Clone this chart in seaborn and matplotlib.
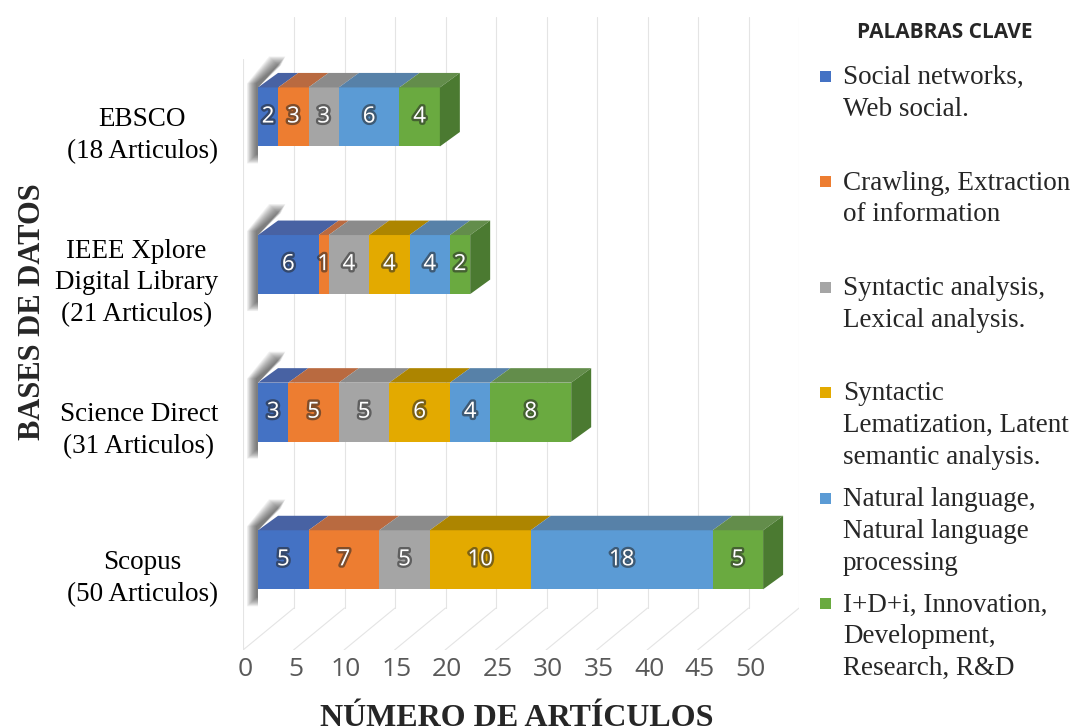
import numpy as np
import pandas as pd
import seaborn as sns
import matplotlib.pyplot as plt
import matplotlib.patheffects as pe
from matplotlib.patches import Polygon, Rectangle
from matplotlib.transforms import ScaledTranslation, blended_transform_factory

# datos
bases = ["EBSCO", "IEEE Xplore", "Science Direct", "Scopus"]
base_labels = ["EBSCO\n(18 Articulos)",
               "IEEE Xplore\nDigital Library\n(21 Articulos)",
               "Science Direct\n(31 Articulos)",
               "Scopus\n(50 Articulos)"]
keywords = ["Social networks,\nWeb social.",
            "Crawling, Extraction\nof information",
            "Syntactic analysis,\nLexical analysis.",
            "Syntactic\nLematization, Latent\nsemantic analysis.",
            "Natural language,\nNatural language\nprocessing",
            "I+D+i, Innovation,\nDevelopment,\nResearch, R&D"]
social = [2, 6, 3, 5]
crawling = [3, 1, 5, 7]
syntactic = [3, 4, 5, 5]
lematization = [0, 4, 6, 10]
natural = [6, 4, 4, 18]
innovation = [4, 2, 8, 5]
x_ticks = [0, 5, 10, 15, 20, 25, 30, 35, 40, 45, 50]

front_colors = ["#4472C4", "#ED7D31", "#A5A5A5", "#E3AA00", "#5B9BD5", "#6AAA40"]
top_colors = ["#4862A3", "#B96A40", "#8B8B8B", "#AD8500", "#5781A8", "#638D4B"]
side_color = "#4B7A31"
grid_color = "#E4E4E4"

cols = ["social", "crawling", "syntactic", "lematization", "natural", "innovation"]
df = pd.DataFrame({"base": bases, "social": social, "crawling": crawling,
                   "syntactic": syntactic, "lematization": lematization,
                   "natural": natural, "innovation": innovation})
cum = df[cols].cumsum(axis=1)
start = cum - df[cols]

sns.set_style("white")
plt.rcParams["font.family"] = ["Liberation Serif", "DejaVu Serif"]

fig = plt.figure(figsize=(10.73, 7.26), dpi=100)
ax = fig.add_axes([0.2265, 0.1047, 0.5182, 0.8747])

# barras apiladas (superposicion de acumulados)
for k in reversed(range(len(cols))):
    sns.barplot(x=cum[cols[k]], y=df["base"], color=front_colors[k], saturation=1,
                width=0.4, orient="h", ax=ax, linewidth=0, zorder=3)

ax.set_xlim(-1.485, 53.56)
ax.set_ylim(3.611, -0.691)
ax.set_xlabel("")
ax.set_ylabel("")
for s in ax.spines.values():
    s.set_visible(False)

# conversion pixeles -> datos
p0 = ax.transData.transform((0, 0))
p1 = ax.transData.transform((1, 1))
ppx = p1[0] - p0[0]
ppy = p1[1] - p0[1]

def dxu(px):
    return px / ppx

def dyu(px):
    return px / ppy

depth_x, depth_y = 20, 14.5
half = 0.2

# caras superiores, lateral y sombra
for i in range(len(bases)):
    top = i - half
    bot = i + half
    for k, c in enumerate(cols):
        v = df.loc[i, c]
        if v <= 0:
            continue
        a = start.loc[i, c]
        b = cum.loc[i, c]
        poly = [(a, top), (b, top), (b + dxu(depth_x), top + dyu(depth_y)),
                (a + dxu(depth_x), top + dyu(depth_y))]
        ax.add_patch(Polygon(poly, closed=True, facecolor=top_colors[k],
                             edgecolor="none", zorder=3))
        ax.text((a + b) / 2, i, str(v), ha="center", va="center", color="white",
                fontsize=16, family="Open Sans", zorder=6,
                path_effects=[pe.withStroke(linewidth=3.5, foreground=(0.15, 0.15, 0.15, 0.55))])
    total = cum.loc[i, cols[-1]]
    side = [(total, top), (total, bot), (total + dxu(depth_x), bot + dyu(depth_y)),
            (total + dxu(depth_x), top + dyu(depth_y))]
    ax.add_patch(Polygon(side, closed=True, facecolor=side_color, edgecolor="none", zorder=3))
    # sombra difusa a la izquierda
    for grow in np.linspace(7, -2, 14):
        sh = [(dxu(-4 - grow), bot + dyu(-10 - grow)), (0, bot + dyu(-10 - grow)),
              (0, top), (dxu(24 + grow * 0.5), top + dyu(24 + grow)),
              (dxu(18 - grow), top + dyu(24 + grow)), (dxu(-4 - grow), top + dyu(4))]
        ax.add_patch(Polygon(sh, closed=True, facecolor=(0.1, 0.1, 0.1, 0.055),
                             edgecolor="none", zorder=2))

# rejilla 3D (pared y piso)
blend = blended_transform_factory(ax.transData, ax.transAxes)
ax_h = ax.get_window_extent().height
floor_back = 42 / ax_h
for v in x_ticks:
    ax.plot([v + dxu(36)] * 2, [floor_back, 0.997], transform=blend,
            color=grid_color, lw=0.8, zorder=0)
    ax.plot([v - dxu(15), v + dxu(36)], [0, floor_back], transform=blend,
            color=grid_color, lw=0.8, zorder=0)
ax.plot([0, 0], [0, 0.93], transform=ax.transAxes, color=grid_color, lw=0.8, zorder=0)

# ejes
ax.set_xticks(x_ticks)
ax.set_xticklabels([str(t) for t in x_ticks], fontsize=19, family="Open Sans", color="#595959")
ax.set_yticks(range(len(bases)))
ax.set_yticklabels(base_labels, fontsize=19.5, color="black", linespacing=1.36)
ax.tick_params(axis="x", length=0, pad=5)
ax.tick_params(axis="y", length=0, pad=18)
for lbl in ax.get_xticklabels():
    lbl.set_transform(lbl.get_transform() + ScaledTranslation(-0.13, 0, fig.dpi_scale_trans))
for lbl in ax.get_yticklabels():
    lbl.set_multialignment("center")
    lbl.set_transform(lbl.get_transform() + ScaledTranslation(0, -0.12, fig.dpi_scale_trans))

W, H = 1073, 726
fig.text(33 / W, 1 - 312 / H, "BASES DE DATOS", rotation=90, fontsize=22,
         fontweight="bold", ha="center", va="center")
fig.text(517 / W, 0.0, "NÚMERO DE ARTÍCULOS", fontsize=23, fontweight="bold",
         ha="center", va="baseline")

# leyenda
fig.text(945 / W, 1 - 32 / H, "PALABRAS CLAVE", fontsize=15, fontweight="bold",
         family="Open Sans", ha="center", va="center")
for i, (lab, col) in enumerate(zip(keywords, front_colors)):
    yb = 84 + i * 105.5
    fig.text(843 / W, 1 - (yb - 19) / H, lab, fontsize=19.5, ha="left", va="top",
             linespacing=1.36)
    fig.add_artist(Rectangle((820 / W, 1 - (yb - 2.5) / H), 11 / W, 11 / H,
                             transform=fig.transFigure, facecolor=col, edgecolor="none"))

fig.savefig("out.png", dpi=100)
